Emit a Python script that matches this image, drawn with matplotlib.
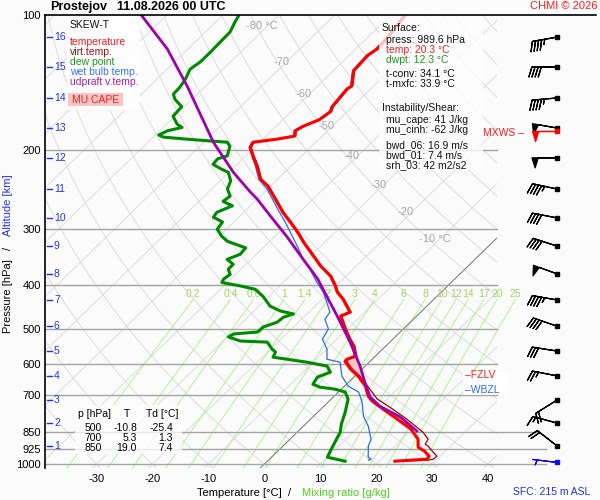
import numpy as np
import matplotlib
matplotlib.use("Agg")
import matplotlib.pyplot as plt
from matplotlib.patches import Rectangle
from matplotlib.lines import Line2D
from matplotlib.ticker import NullLocator

plt.rcParams['font.family'] = ['Liberation Sans', 'DejaVu Sans']
plt.rcParams['axes.unicode_minus'] = False

SKEW = 82.6          # isotherm shift in degC per decade of pressure
BG = '#fbfbfb'
W, H = 600, 500

# ---- sounding: temperature (hPa, degC) ----
t_p = [100, 110, 119, 123, 133, 144, 146, 160, 164, 171, 177, 181, 186, 189, 192,
       197, 206, 217, 232, 240, 261, 275, 289, 304, 320, 344, 362, 381, 401, 414,
       429, 445, 459, 468, 500, 527, 546, 575, 584, 590, 614, 637, 670, 706, 724,
       754, 794, 836, 880, 917, 935, 960, 975, 985]
t_T = [-57.4, -56.6, -56.2, -56.7, -56.4, -53.9, -54.2, -53.6, -53.0, -53.5, -55.2,
       -55.8, -54.9, -57.5, -61.2, -60.8, -58.7, -56.1, -53.1, -50.6, -45.9, -43.0,
       -39.9, -36.8, -33.9, -29.5, -26.4, -22.8, -20.1, -18.6, -16.3, -14.3, -12.6,
       -13.6, -10.4, -7.8, -5.8, -3.6, -4.5, -4.5, -2.1, 0.6, 3.7, 6.1, 7.7, 11.1,
       15.5, 19.8, 22.9, 24.4, 26.2, 28.0, 28.2, 22.8]

# ---- virtual temperature ----
v_p = [100, 110, 119, 123, 133, 144, 146, 160, 164, 171, 177, 181, 186, 189, 192,
       197, 206, 217, 232, 240, 261, 275, 289, 304, 320, 344, 362, 381, 401, 414,
       429, 445, 459, 468, 500, 527, 546, 575, 584, 590, 614, 637, 670, 700, 716,
       747, 794, 849, 880, 903, 912, 935, 960, 975, 980, 985]
v_T = [-57.2, -56.4, -56.0, -56.5, -56.2, -53.7, -54.0, -53.4, -52.8, -53.3, -55.0,
       -55.6, -54.7, -57.3, -61.0, -60.6, -58.5, -55.9, -52.9, -50.4, -45.7, -42.8,
       -39.7, -36.6, -33.7, -29.3, -26.2, -22.6, -19.9, -18.4, -16.1, -14.1, -12.4,
       -13.4, -10.2, -7.5, -5.5, -3.3, -4.2, -4.2, -1.8, 0.9, 4.1, 6.8, 8.2, 12.0,
       17.2, 22.5, 24.7, 25.1, 26.0, 27.6, 29.4, 29.3, 28.4, 23.1]

# ---- dew point ----
d_p = [100, 104, 109, 115, 121, 127, 132, 139, 145, 150, 154, 160, 168, 175, 178,
       181, 185, 187, 189, 191, 192, 196, 206, 209, 215, 220, 224, 234, 244, 253,
       260, 266, 275, 282, 289, 300, 311, 319, 330, 341, 350, 359, 368, 378, 387,
       394, 401, 408, 423, 445, 456, 463, 471, 483, 495, 508, 513, 521, 532, 535,
       555, 563, 578, 584, 590, 593, 605, 624, 640, 664, 674, 681, 691, 716, 766,
       814, 849, 889, 935, 965, 985]
d_T = [-87.1, -86.5, -85.6, -85.5, -85.4, -85.4, -85.9, -84.9, -84.4, -84.3, -83.1,
       -80.5, -80.3, -78.1, -76.6, -78.6, -79.4, -78.2, -73.6, -68.5, -65.8, -64.6,
       -63.3, -64.5, -64.3, -62.1, -60.1, -58.1, -57.2, -55.4, -55.7, -53.2, -54.8,
       -54.5, -52.0, -51.6, -49.5, -47.6, -43.1, -42.9, -44.3, -42.3, -42.3, -41.0,
       -41.3, -41.0, -37.1, -33.8, -31.1, -28.0, -25.3, -22.4, -23.6, -23.8, -25.4,
       -25.5, -29.4, -29.8, -26.9, -21.9, -19.7, -18.6, -18.1, -15.2, -12.5, -11.1,
       -6.8, -5.1, -6.5, -6.0, -4.2, -1.1, 1.2, 3.0, 4.9, 6.4, 7.7, 8.5, 9.4, 10.0,
       13.9]

# ---- wet bulb temperature ----
w_p = [100, 110, 119, 123, 133, 144, 146, 160, 164, 171, 177, 181, 186, 189, 192,
       197, 206, 217, 232, 244, 270, 289, 327, 350, 368, 394, 414, 436, 459, 468,
       476, 500, 527, 555, 584, 593, 637, 670, 691, 728, 782, 823, 880, 912, 965,
       975, 980]
w_T = [-57.6, -56.8, -56.4, -56.9, -56.6, -54.1, -54.4, -53.8, -53.2, -53.7, -55.4,
       -56.0, -55.1, -57.7, -61.4, -61.0, -58.9, -56.4, -53.4, -50.1, -44.6, -40.8,
       -34.2, -30.7, -27.7, -24.0, -21.1, -18.6, -16.2, -16.0, -15.8, -13.4, -12.6,
       -9.9, -8.1, -5.2, -2.3, 0.6, 3.6, 6.1, 8.9, 11.6, 14.5, 15.3, 17.3, 18.2, 17.9]

# ---- MU parcel (updraft virtual temperature) ----
u_p = [100, 119, 144, 192, 224, 248, 257, 280, 311, 350, 387, 423, 468, 535, 605,
       657, 709, 743, 786, 844]
u_T = [-104.6, -93.7, -83.3, -68.3, -59.2, -52.5, -50.0, -44.6, -37.9, -30.7, -24.5,
       -19.7, -14.2, -7.1, -0.9, 2.9, 6.6, 10.0, 15.7, 21.2]

# ---- winds at altitude levels ----
km_lab = [1, 2, 3, 4, 5, 6, 7, 8, 9, 10, 11, 12, 13, 14, 15, 16]
km_p = [911, 810, 720, 636, 560, 493, 431, 377, 327, 283, 244, 208, 178.5, 153, 130.5, 112]
barb_dir = [308, 285, 238, 281, 279, 289, 280, 290, 288, 281, 282, 270, 280, 265, 270, 260]
barb_spd = [20, 15, 20, 25, 30, 40, 45, 50, 40, 40, 45, 50, 50, 45, 40, 45]
sfc_wind = (989.6, 277, 5)
mxws_wind = (181, 270, 50)

# ---- axes ticks / labels ----
p_ticks = [100, 200, 300, 400, 500, 600, 700, 850, 925, 1000]
t_ticks = [-30, -20, -10, 0, 10, 20, 30, 40]
iso_lab_T = [-80, -70, -60, -50, -40, -30, -20, -10]
iso_lab_p = [106, 127, 150, 177, 206, 239, 275, 315]
mix_w = [0.2, 0.4, 0.6, 1, 1.4, 2, 3, 4, 6, 8, 10, 12, 14, 17, 20, 25]
mix_lab = ['0.2', '0.4', '0.6', '1', '1.4', '2', '3', '4', '6', '8', '10', '12', '14', '17', '20', '25']

# ---- text info ----
station = 'Prostejov'
run_time = '11.08.2026 00 UTC'
sfc_press, sfc_temp, sfc_dwpt = 989.6, 20.3, 12.3
t_conv, t_mxfc = 34.1, 33.9
mu_cape, mu_cinh = 41, -62
bwd_06, bwd_01, srh_03 = 16.9, 7.4, 42
tbl_p = [500, 700, 850]
tbl_T = [-10.8, 5.3, 19.0]
tbl_Td = [-25.4, 1.3, 7.4]
fzlv_p, wbzl_p = 632, 684
sfc_height = 215


def skx(t, p):
    return np.asarray(t, float) + SKEW * np.log10(1000.0 / np.asarray(p, float))


def fx(x):
    return x / W


def fy(y):
    return 1.0 - y / H


fig = plt.figure(figsize=(6, 5), dpi=100, facecolor=BG)
ax = fig.add_axes([fx(45), fy(468), 452 / W, 453 / H])
ax.set_facecolor(BG)
ax.set_yscale('log')
XMIN, XMAX = -39.2, 41.6
ax.set_ylim(1020, 100)
ax.set_xlim(XMIN, XMAX)
for s in ['top', 'right', 'bottom']:
    ax.spines[s].set_visible(False)
ax.spines['left'].set_linewidth(1.2)
ax.set_yticks(p_ticks)
ax.set_yticklabels([str(p) for p in p_ticks])
ax.yaxis.set_minor_locator(NullLocator())
ax.set_xticks(t_ticks)
ax.set_xticklabels([str(t) for t in t_ticks])
ax.tick_params(axis='both', length=0, labelsize=8)
ax.tick_params(axis='y', pad=3)
ax.tick_params(axis='x', pad=4)

# background grid: isotherms and dry adiabats
pp = np.logspace(2, np.log10(1020), 120)
for t in range(-130, 50, 10):
    ax.plot(skx(t, pp), pp, color='#d8d8d8', lw=0.6, zorder=1)
for th in range(-40, 180, 10):
    ta = (th + 273.15) * (pp / 1000.0) ** 0.2857 - 273.15
    ax.plot(skx(ta, pp), pp, color='#d8d8d8', lw=0.6, zorder=1)
ax.plot(skx(0, pp), pp, color='#6a6a6a', lw=0.6, zorder=2)
for t, p in zip(iso_lab_T, iso_lab_p):
    lab = f'{t} °C' if t in (-80, -10) else str(t)
    ax.text(skx(t, p) - 1.0, p, lab, color='#a6a6a6', fontsize=8, ha='center', va='center', zorder=2)

# mixing ratio lines
pm = np.linspace(430, 1020, 60)
for w, lab in zip(mix_w, mix_lab):
    e = w * pm / (622.0 + w)
    a = np.log(e / 6.112)
    td = 243.5 * a / (17.67 - a)
    ax.plot(skx(td, pm), pm, color='#a8f282', lw=0.6, zorder=1, clip_on=False)
    ax.text(skx(td[0], pm[0]), 418, lab, color='#a6d45c', fontsize=7.5,
            ha='center', va='center', zorder=2, clip_on=False)

# isobars
iso_end = {850: 49.3, 925: 50.4, 1000: 50.4}
for p in p_ticks[1:]:
    ax.plot([XMIN, iso_end.get(p, XMAX)], [p, p], color='#a4a4a4', lw=1.0, zorder=2, clip_on=False)
fig.add_artist(Line2D([fx(45), fx(596)], [fy(15), fy(15)], color='black', lw=1.2))

# CAPE area
pf = np.linspace(540, 700, 120)
env = np.interp(np.log(pf), np.log(t_p), t_T)
par = np.interp(np.log(pf), np.log(u_p), u_T)
ax.fill_betweenx(pf, skx(env, pf), skx(par, pf), where=par > env, interpolate=True,
                 color='#ffc6c6', lw=0, zorder=3)

# profiles
ax.plot(skx(v_T, v_p), v_p, color='#9a0000', lw=0.9, zorder=4)
ax.plot(skx(w_T, w_p), w_p, color='#2a6cf0', lw=0.9, zorder=4)
ax.plot(skx(d_T, d_p), d_p, color='#008a00', lw=2.2, zorder=5)
ax.plot(skx(t_T, t_p), t_p, color='#ff0000', lw=2.2, zorder=5)
ax.plot(skx(u_T, u_p), u_p, color='#a000a8', lw=2.0, zorder=6)

# altitude ticks
ytr = ax.get_yaxis_transform()
for k, p in zip(km_lab, km_p):
    ax.plot([2 / 452, 7 / 452], [p, p], transform=ytr, color='#2233ee', lw=1.0, clip_on=False)
    ax.text(9 / 452, p, str(k), transform=ytr, color='#2233ee', fontsize=7.5,
            ha='left', va='center')

# freezing / wet-bulb zero levels
ax.add_patch(Rectangle((fx(463), fy(395)), 45 / W, 23 / H, transform=fig.transFigure,
                       facecolor='white', edgecolor='none', zorder=7, clip_on=False))
ax.text(420 / 452, fzlv_p, '–FZLV', transform=ytr, color='#ff1a1a', fontsize=7.5,
        ha='left', va='center', zorder=8)
ax.text(420 / 452, wbzl_p, '–WBZL', transform=ytr, color='#2a6cf0', fontsize=7.5,
        ha='left', va='center', zorder=8)

# wind barbs
axw = fig.add_axes([fx(500), fy(468), 100 / W, 453 / H])
axw.set_yscale('log')
axw.set_ylim(1020, 100)
axw.set_xlim(500, 600)
axw.axis('off')
axw.patch.set_alpha(0)


def uv(d, s):
    r = np.deg2rad(np.asarray(d, float))
    s = np.asarray(s, float)
    return -s * np.sin(r), -s * np.cos(r)


u, v = uv(barb_dir, barb_spd)
bx = np.full(len(km_p), 557.0)
axw.barbs(bx, km_p, u, v, length=6.0, color='black', linewidth=0.9, flip_barb=True)
axw.plot(bx, km_p, 's', color='black', ms=2.5)
for (p, d, s), c in [(sfc_wind, '#1010ee'), (mxws_wind, '#ff0000')]:
    uu, vv = uv([d], [s])
    axw.barbs([557.0], [p], uu, vv, length=6.0, color=c, linewidth=0.9, flip_barb=True)
    axw.plot([557.0], [p], 's', color=c, ms=2.5)
fig.text(fx(483), fy(133), 'MXWS –', color='#ff1a1a', fontsize=7.5, va='center')

# title
fig.text(fx(50), fy(7), station, fontsize=9, weight='bold', va='center')
fig.text(fx(117), fy(7), run_time, fontsize=9, weight='bold', va='center')
fig.text(fx(597), fy(6), 'CHMI © 2026', color='#ff1a1a', fontsize=8, ha='right', va='center')

# legend box
fig.add_artist(Rectangle((fx(67), fy(110)), 73 / W, 95 / H, transform=fig.transFigure,
                         facecolor='white', edgecolor='none', alpha=0.85))
leg = [('SKEW-T', '#111111'), ('temperature', '#ff1a1a'), ('virt.temp.', '#a01010'),
       ('dew point', '#1a9a1a'), ('wet bulb temp.', '#3377ee'), ('udpraft v.temp.', '#b01cb0')]
for i, (s, c) in enumerate(leg):
    y = 25 if i == 0 else 42 + 10 * (i - 1)
    fig.text(fx(70), fy(y), s, color=c, fontsize=7.5, va='center')
fig.add_artist(Rectangle((fx(68), fy(106)), 55 / W, 13 / H, transform=fig.transFigure,
                         facecolor='#ffc4c4', edgecolor='none'))
fig.text(fx(96), fy(100), 'MU CAPE', color='#ff1a1a', fontsize=7.5, ha='center', va='center')

# info box
fig.add_artist(Rectangle((fx(379), fy(170)), 104 / W, 155 / H, transform=fig.transFigure,
                         facecolor='white', edgecolor='none', alpha=0.75))
info = [('Surface:', 382, 28, '#111111'),
        (f'press: {sfc_press} hPa', 386, 40, '#111111'),
        (f'temp: {sfc_temp} °C', 386, 50, '#ff1a1a'),
        (f'dwpt: {sfc_dwpt} °C', 386, 60, '#1a9a1a'),
        (f't-conv: {t_conv} °C', 386, 74, '#111111'),
        (f't-mxfc: {t_mxfc} °C', 386, 84, '#111111'),
        ('Instability/Shear:', 382, 108, '#111111'),
        (f'mu_cape: {mu_cape} J/kg', 386, 120, '#111111'),
        (f'mu_cinh: {mu_cinh} J/kg', 386, 130, '#111111'),
        (f'bwd_06: {bwd_06} m/s', 386, 145, '#111111'),
        (f'bwd_01: {bwd_01} m/s', 386, 155, '#111111'),
        (f'srh_03: {srh_03} m2/s2', 386, 165, '#111111')]
for s, x, y, c in info:
    fig.text(fx(x), fy(y), s, color=c, fontsize=7.5, va='center')

# level table
fig.add_artist(Rectangle((fx(75), fy(454)), 107 / W, 49 / H, transform=fig.transFigure,
                         facecolor='white', edgecolor='none', alpha=0.75))
fig.text(fx(78), fy(414), 'p [hPa]', fontsize=7.5, va='center')
fig.text(fx(127), fy(414), 'T', fontsize=7.5, va='center', ha='center')
fig.text(fx(146), fy(414), 'Td [°C]', fontsize=7.5, va='center')
for i, (p, t, td) in enumerate(zip(tbl_p, tbl_T, tbl_Td)):
    y = 428 + 10 * i
    fig.text(fx(93), fy(y), str(p), fontsize=7.5, va='center', ha='center')
    fig.text(fx(137), fy(y), f'{t:.1f}', fontsize=7.5, va='center', ha='right')
    fig.text(fx(173), fy(y), f'{td:.1f}', fontsize=7.5, va='center', ha='right')

# axis labels
fig.text(fx(197), fy(493), 'Temperature [°C]  /', fontsize=8, va='center')
fig.text(fx(302), fy(493), 'Mixing ratio [g/kg]', color='#55cc22', fontsize=8, va='center')
fig.text(fx(8), fy(296), 'Pressure [hPa]', fontsize=8, rotation=90, ha='center', va='center')
fig.text(fx(8), fy(248), '/', fontsize=8, rotation=90, ha='center', va='center')
fig.text(fx(8), fy(205), 'Altitude [km]', color='#2233ee', fontsize=8, rotation=90,
         ha='center', va='center')
fig.text(fx(590), fy(492), f'SFC: {sfc_height} m ASL', color='#2233dd', fontsize=7.5,
         ha='right', va='center')

fig.savefig('out.png', dpi=100, facecolor=BG)
